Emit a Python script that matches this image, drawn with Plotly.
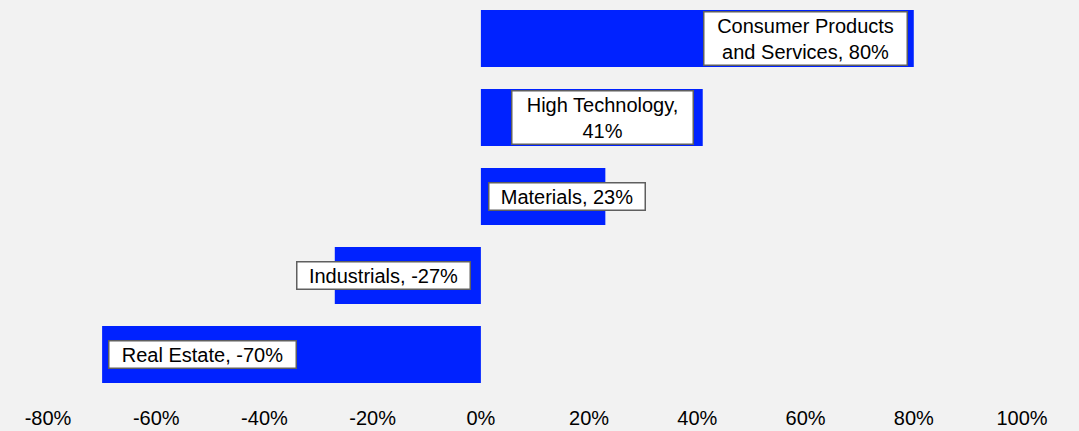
import plotly.graph_objects as go

categories = ["Consumer Products and Services", "High Technology", "Materials", "Industrials", "Real Estate"]
label_texts = ["Consumer Products<br>and Services, 80%", "High Technology,<br>41%", "Materials, 23%",
               "Industrials, -27%", "Real Estate, -70%"]
values = [80, 41, 23, -27, -70]
tick_values = [-80, -60, -40, -20, 0, 20, 40, 60, 80, 100]
tick_labels = ["-80%", "-60%", "-40%", "-20%", "0%", "20%", "40%", "60%", "80%", "100%"]

# label box placement (data units on x) and box widths (px)
label_x = [60, 22.5, 16, -18, -51.4]
label_w = [198, 176, 151, 168, 182]

fig = go.Figure()
fig.add_trace(go.Bar(
    y=categories, x=values, orientation="h",
    marker=dict(color="#0022ff", line=dict(width=0)),
    hoverinfo="skip",
))

for cat, txt, lx, w in zip(categories, label_texts, label_x, label_w):
    fig.add_annotation(
        x=lx, y=cat, xref="x", yref="y", text=txt, showarrow=False,
        font=dict(family="Liberation Sans, Arial, sans-serif", size=20, color="#000000"),
        bgcolor="#ffffff", bordercolor="#5f5f5f", borderwidth=1.5, borderpad=2,
        width=w, align="center", xanchor="center", yanchor="middle",
    )

fig.update_layout(
    width=1071, height=423,
    margin=dict(l=40, r=57, t=0, b=27),
    paper_bgcolor="#f2f2f2", plot_bgcolor="#f2f2f2",
    bargap=0.28, showlegend=False,
    font=dict(family="Liberation Sans, Arial, sans-serif", size=20, color="#000000"),
    xaxis=dict(range=[-80, 100], tickvals=tick_values, ticktext=tick_labels,
               showgrid=False, zeroline=False, showline=False, ticks="",
               tickfont=dict(size=20, color="#000000")),
    yaxis=dict(categoryorder="array", categoryarray=categories,
               range=[4.627, -0.386],
               showticklabels=False, showgrid=False, zeroline=False, showline=False, ticks=""),
)

fig.write_html("out.html", post_script="document.body.style.background='#f2f2f2';")
